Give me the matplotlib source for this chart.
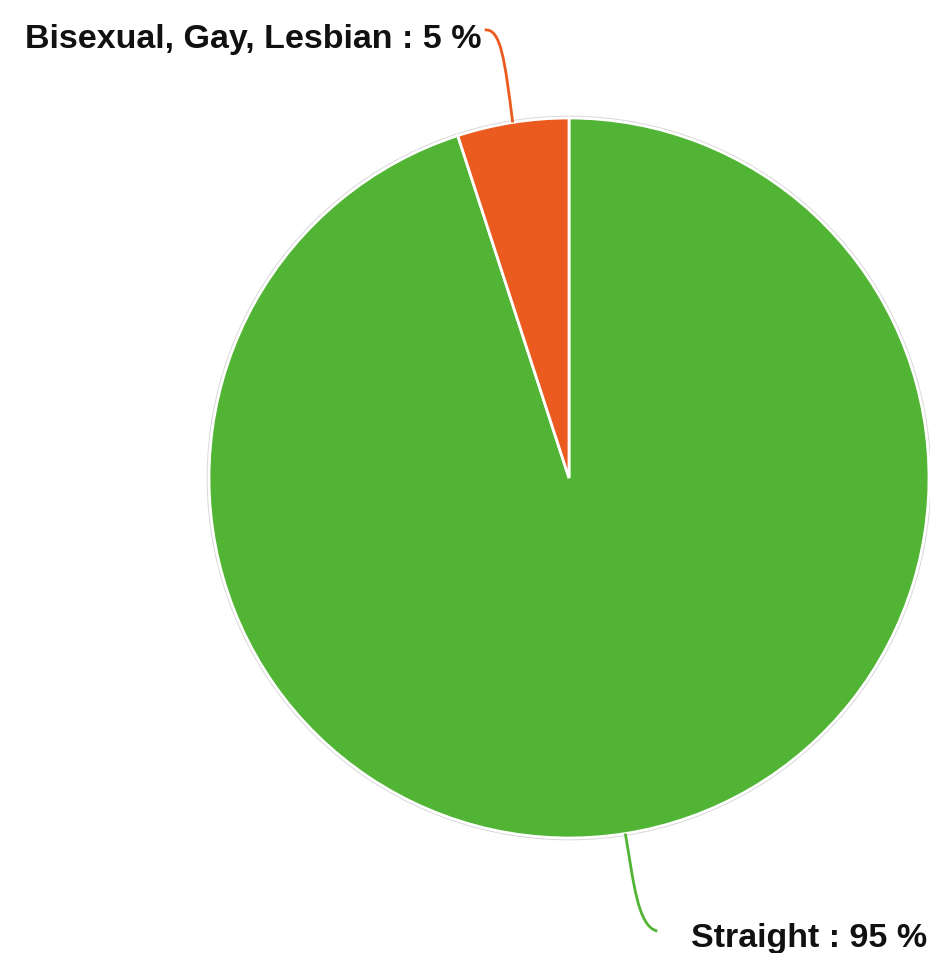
import numpy as np
import matplotlib
matplotlib.use("Agg")
import matplotlib.pyplot as plt
from matplotlib.path import Path
from matplotlib.patches import PathPatch, Circle

# Data
categories = ["Straight", "Bisexual, Gay, Lesbian"]
values = [95, 5]
colors = ["#52B435", "#EB5A1E"]

W, H = 930, 954
fig = plt.figure(figsize=(W / 100, H / 100), dpi=100)
ax = fig.add_axes([0, 0, 1, 1])

cx, cy_px, R = 569, 479, 360
cy = H - cy_px

# subtle outline shadow
ax.add_patch(Circle((cx, cy), R + 1.5, facecolor="none", edgecolor="#d8d8d8", lw=1.2, zorder=0))

wedges, _ = ax.pie(values, colors=colors, startangle=90, counterclock=False,
                   center=(cx, cy), radius=R,
                   wedgeprops=dict(edgecolor="white", linewidth=2))

ax.set_xlim(0, W)
ax.set_ylim(0, H)
ax.set_aspect("auto")
ax.axis("off")

font = dict(family=["Liberation Sans", "DejaVu Sans"], fontweight="bold",
            fontsize=24.5, color="#111111")

# connectors + labels
total = sum(values)
start = 90.0
for cat, val, col in zip(categories, values, colors):
    span = 360.0 * val / total
    mid = np.deg2rad(start - span / 2)
    start -= span
    px, py = cx + R * np.cos(mid), cy + R * np.sin(mid)
    label = f"{cat} : {val} %"
    if py > cy:  # top label
        ex, ey = px - 28, H - 31
        verts = [(px, py), (px - 8, H - 60), (px - 12, ey + 2), (ex, ey)]
        ax.text(ex - 3, H - 48, label, ha="right", va="baseline", **font)
    else:
        ex, ey = px + 32, H - 932
        verts = [(px, py), (px + 8, H - 880), (px + 12, ey + 4), (ex, ey)]
        ax.text(W - 3, H - 947, label, ha="right", va="baseline", **font)
    path = Path(verts, [Path.MOVETO, Path.CURVE4, Path.CURVE4, Path.CURVE4])
    ax.add_patch(PathPatch(path, facecolor="none", edgecolor=col, lw=2, zorder=3))

fig.savefig("out.png", dpi=100)
